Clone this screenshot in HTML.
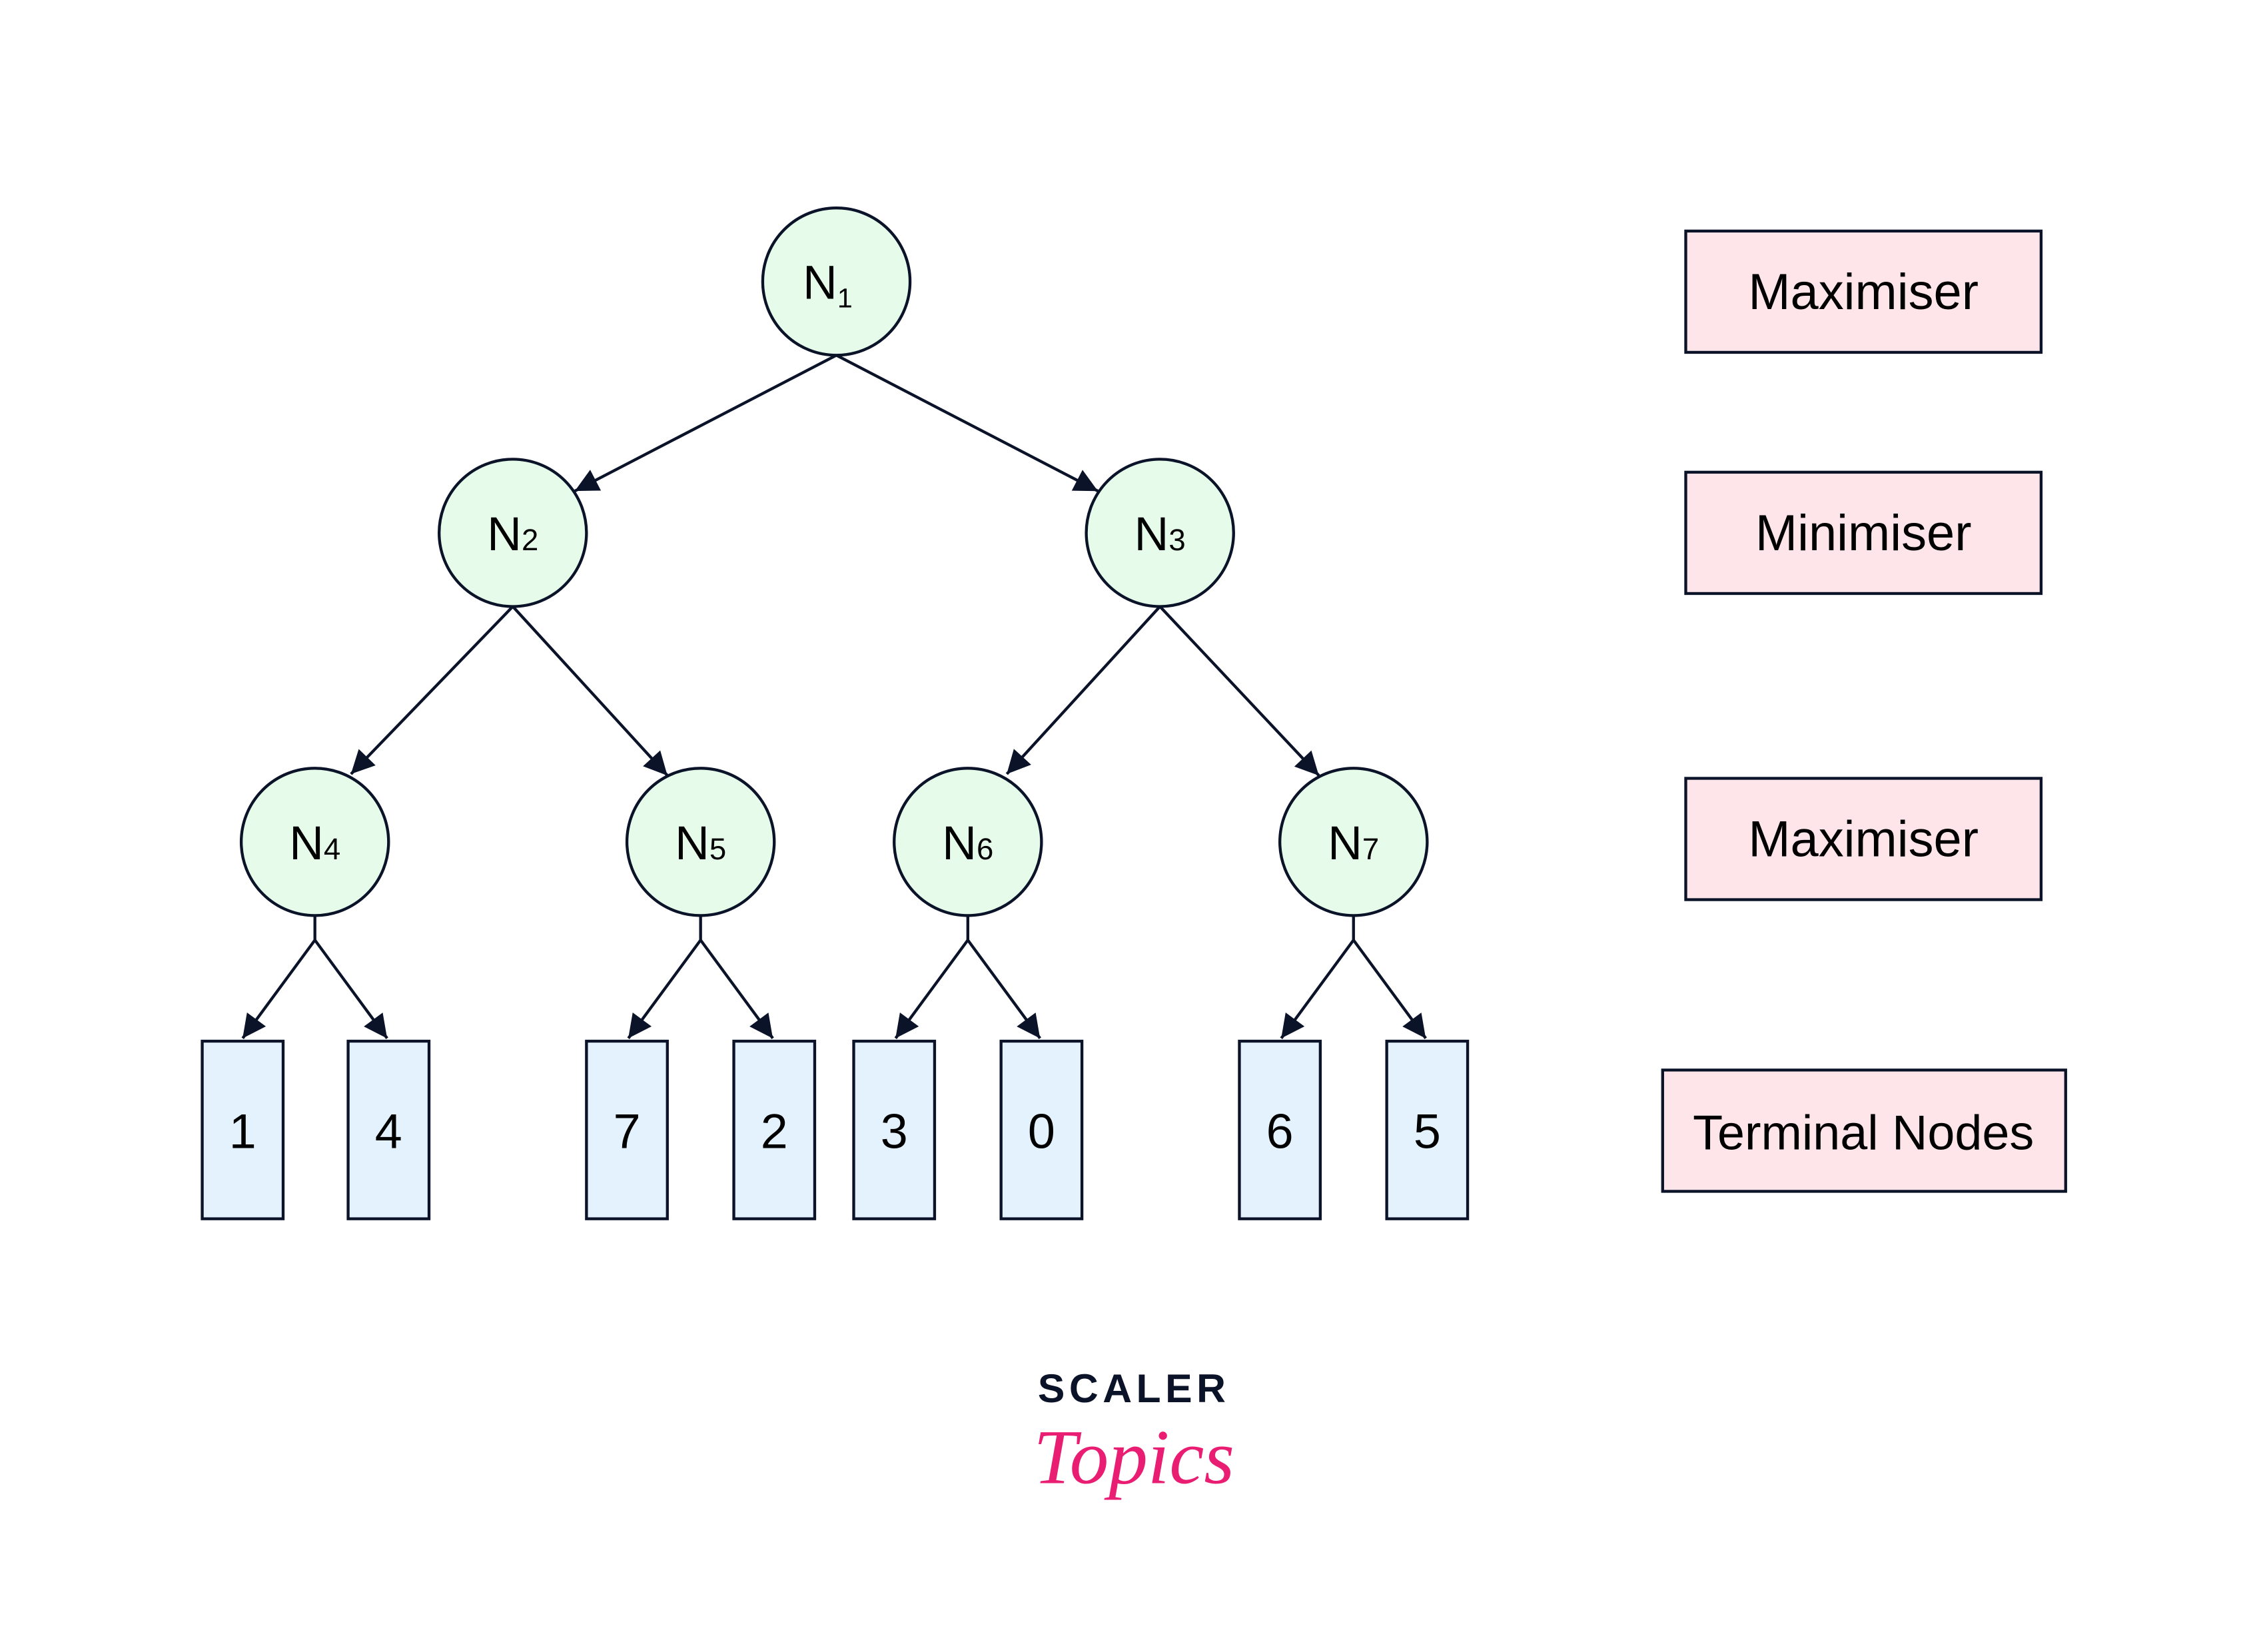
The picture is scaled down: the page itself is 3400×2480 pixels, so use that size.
<!DOCTYPE html>
<html><head><meta charset="utf-8"><style>
html,body{margin:0;padding:0;background:#fff;}
svg{display:block;}
text{font-family:"Liberation Sans",sans-serif;fill:#000;}
</style></head><body>
<svg width="3400" height="2480" viewBox="0 0 1568 1144" preserveAspectRatio="none" xmlns="http://www.w3.org/2000/svg">
<defs>
<marker id="a" viewBox="0 0 10 10" refX="10" refY="5" markerWidth="9" markerHeight="9" markerUnits="userSpaceOnUse" orient="auto" style="overflow:visible">
<path d="M0,0 L10,5 L0,10 z" fill="#0b1329" transform="scale(1.8) translate(-4.4,-2.2)"/>
</marker>
</defs>
<rect width="1568" height="1144" fill="#fff"/>
<g stroke="#0b1329" stroke-width="2" fill="none">
<line x1="579" y1="246" x2="398" y2="340" marker-end="url(#a)"/>
<line x1="579" y1="246" x2="760" y2="340" marker-end="url(#a)"/>
<line x1="355" y1="420" x2="243" y2="536" marker-end="url(#a)"/>
<line x1="355" y1="420" x2="462" y2="537" marker-end="url(#a)"/>
<line x1="803" y1="420" x2="697" y2="536" marker-end="url(#a)"/>
<line x1="803" y1="420" x2="913" y2="537" marker-end="url(#a)"/>
<path d="M218 634 V651"/><line x1="218" y1="651" x2="168" y2="719" marker-end="url(#a)"/><line x1="218" y1="651" x2="268" y2="719" marker-end="url(#a)"/>
<path d="M485 634 V651"/><line x1="485" y1="651" x2="435" y2="719" marker-end="url(#a)"/><line x1="485" y1="651" x2="535" y2="719" marker-end="url(#a)"/>
<path d="M670 634 V651"/><line x1="670" y1="651" x2="620" y2="719" marker-end="url(#a)"/><line x1="670" y1="651" x2="720" y2="719" marker-end="url(#a)"/>
<path d="M937 634 V651"/><line x1="937" y1="651" x2="887" y2="719" marker-end="url(#a)"/><line x1="937" y1="651" x2="987" y2="719" marker-end="url(#a)"/>
</g>
<g fill="#e6fbea" stroke="#0b1329" stroke-width="2">
<circle cx="579" cy="195" r="51"/>
<circle cx="355" cy="369" r="51"/>
<circle cx="803" cy="369" r="51"/>
<circle cx="218" cy="583" r="51"/>
<circle cx="485" cy="583" r="51"/>
<circle cx="670" cy="583" r="51"/>
<circle cx="937" cy="583" r="51"/>
</g>
<g font-size="33" text-anchor="middle">
<text x="573" y="207">N<tspan font-size="19" dy="6">1</tspan></text>
<text x="355" y="381">N<tspan font-size="21">2</tspan></text>
<text x="803" y="381">N<tspan font-size="21">3</tspan></text>
<text x="218" y="595">N<tspan font-size="21">4</tspan></text>
<text x="485" y="595">N<tspan font-size="21">5</tspan></text>
<text x="670" y="595">N<tspan font-size="21">6</tspan></text>
<text x="937" y="595">N<tspan font-size="21">7</tspan></text>
</g>
<g fill="#e4f2fd" stroke="#0b1329" stroke-width="2">
<rect x="140" y="721" width="56" height="123"/>
<rect x="241" y="721" width="56" height="123"/>
<rect x="406" y="721" width="56" height="123"/>
<rect x="508" y="721" width="56" height="123"/>
<rect x="591" y="721" width="56" height="123"/>
<rect x="693" y="721" width="56" height="123"/>
<rect x="858" y="721" width="56" height="123"/>
<rect x="960" y="721" width="56" height="123"/>
</g>
<g font-size="34" text-anchor="middle">
<text x="168" y="795">1</text><text x="269" y="795">4</text>
<text x="434" y="795">7</text><text x="536" y="795">2</text>
<text x="619" y="795">3</text><text x="721" y="795">0</text>
<text x="886" y="795">6</text><text x="988" y="795">5</text>
</g>
<g fill="#fde5e9" stroke="#0b1329" stroke-width="2">
<rect x="1167" y="160" width="246" height="84"/>
<rect x="1167" y="327" width="246" height="84"/>
<rect x="1167" y="539" width="246" height="84"/>
<rect x="1151" y="741" width="279" height="84"/>
</g>
<g font-size="35" text-anchor="middle">
<text x="1290" y="214">Maximiser</text>
<text x="1290" y="381">Minimiser</text>
<text x="1290" y="593">Maximiser</text>
<text x="1290" y="796" font-size="34">Terminal Nodes</text>
</g>
<text x="785" y="971" font-size="28" font-weight="bold" text-anchor="middle" letter-spacing="3" style="fill:#0b1329">SCALER</text>
<text x="785" y="1027" font-size="54" font-style="italic" text-anchor="middle" style="fill:#e91e73;font-family:'Liberation Serif',serif">Topics</text>
</svg>
</body></html>
